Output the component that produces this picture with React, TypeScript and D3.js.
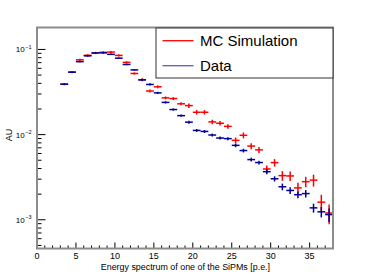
import * as d3 from "d3";

// bin centres (p.e.)
const binCenters = [
  3.5, 4.5, 5.5, 6.5, 7.5, 8.5, 9.5, 10.5, 11.5, 12.5, 13.5, 14.5, 15.5, 16.5,
  17.5, 18.5, 19.5, 20.5, 21.5, 22.5, 23.5, 24.5, 25.5, 26.5, 27.5, 28.5, 29.5,
  30.5, 31.5, 32.5, 33.5, 34.5, 35.5, 36.5, 37.5,
];

// MC simulation (red)
const mcValues = [
  0.0391, 0.0541, 0.0755, 0.0853, 0.091, 0.0925, 0.0932, 0.085, 0.0705, 0.0522,
  0.0441, 0.0325, 0.0364, 0.027, 0.0265, 0.023, 0.0219, 0.0183, 0.0183, 0.0141,
  0.0136, 0.0125, 0.00857, 0.00982, 0.00734, 0.00662, 0.00395, 0.00469, 0.0033,
  0.00327, 0.00237, 0.0028, 0.00292, 0.00161, 0.0012,
];
// relative errors
const mcErrors = [
  0.03, 0.03, 0.03, 0.03, 0.03, 0.03, 0.03, 0.03, 0.03, 0.03, 0.04, 0.04, 0.04,
  0.04, 0.04, 0.04, 0.06, 0.06, 0.06, 0.06, 0.06, 0.06, 0.08, 0.08, 0.08, 0.08,
  0.1, 0.1, 0.13, 0.13, 0.15, 0.14, 0.16, 0.22, 0.26,
];

// measured data (blue)
const dataValues = [
  0.0391, 0.0541, 0.0719, 0.0841, 0.091, 0.0912, 0.0876, 0.079, 0.0666, 0.0575,
  0.0439, 0.0388, 0.0309, 0.0239, 0.0197, 0.0167, 0.014, 0.0112, 0.0109,
  0.00989, 0.00912, 0.00897, 0.00748, 0.0065, 0.00509, 0.0047, 0.00367,
  0.00303, 0.00244, 0.00221, 0.00197, 0.00203, 0.00138, 0.00124, 0.00115,
];
const dataErrors = [
  0.02, 0.02, 0.02, 0.02, 0.02, 0.02, 0.02, 0.02, 0.02, 0.02, 0.03, 0.03, 0.03,
  0.03, 0.03, 0.03, 0.04, 0.04, 0.04, 0.04, 0.04, 0.04, 0.05, 0.05, 0.05, 0.05,
  0.07, 0.07, 0.09, 0.09, 0.09, 0.1, 0.12, 0.14, 0.18,
];

const xTicks = [0, 5, 10, 15, 20, 25, 30, 35];
const xMinorTicks = [
  1, 2, 3, 4, 6, 7, 8, 9, 11, 12, 13, 14, 16, 17, 18, 19, 21, 22, 23, 24, 26, 27,
  28, 29, 31, 32, 33, 34, 36, 37,
];
const yDecades = [-3, -2, -1];
const yMinorTicks = [
  5e-4, 6e-4, 7e-4, 8e-4, 9e-4, 2e-3, 3e-3, 4e-3, 5e-3, 6e-3, 7e-3, 8e-3, 9e-3,
  2e-2, 3e-2, 4e-2, 5e-2, 6e-2, 7e-2, 8e-2, 9e-2,
];

const legendItems = [
  { label: "MC Simulation", color: "#ff0000" },
  { label: "Data", color: "#5a5ac4" },
];

const W = 370;
const H = 278;
const frame = { left: 37, right: 333, top: 27.5, bottom: 248.5 };
const font = "'Liberation Sans', Arial, Helvetica, sans-serif";

const x = d3.scaleLinear().domain([0, 38]).range([frame.left, frame.right]);
const y = d3.scaleLog().domain([4.6e-4, 0.181]).range([frame.bottom, frame.top]);

const Series = ({ values, errors, color }) => (
  <g stroke={color} strokeWidth={1.5}>
    {values.map((v, i) => {
      const cx = x(binCenters[i]);
      const cy = y(v);
      return (
        <g key={i}>
          <line x1={x(binCenters[i] - 0.5)} x2={x(binCenters[i] + 0.5)} y1={cy} y2={cy} />
          <line x1={cx} x2={cx} y1={y(v * (1 - errors[i]))} y2={y(v * (1 + errors[i]))} />
        </g>
      );
    })}
  </g>
);

export default function App() {
  return (
    <svg
      width={W}
      height={H}
      style={{ position: "absolute", left: 0, top: 0, background: "#fff" }}
      fontFamily={font}
    >
      <rect width={W} height={H} fill="#fff" />

      {/* data */}
      <Series values={mcValues} errors={mcErrors} color="#ff0000" />
      <Series values={dataValues} errors={dataErrors} color="#000099" />

      {/* ticks */}
      <g stroke="#000" strokeWidth={1}>
        {xTicks.map((t) => (
          <line key={t} x1={x(t)} x2={x(t)} y1={frame.bottom} y2={frame.bottom - 6} />
        ))}
        {xMinorTicks.map((t) => (
          <line key={t} x1={x(t)} x2={x(t)} y1={frame.bottom} y2={frame.bottom - 3} />
        ))}
        {yDecades.map((d) => (
          <line key={d} x1={frame.left} x2={frame.left + 8.5} y1={y(10 ** d)} y2={y(10 ** d)} />
        ))}
        {yMinorTicks.map((t) => (
          <line key={t} x1={frame.left} x2={frame.left + 4.5} y1={y(t)} y2={y(t)} />
        ))}
      </g>

      {/* frame */}
      <rect
        x={frame.left}
        y={frame.top}
        width={frame.right - frame.left}
        height={frame.bottom - frame.top}
        fill="none"
        stroke="#8c8c8c"
        strokeWidth={2}
      />

      {/* x tick labels */}
      <g fontSize={9} textAnchor="middle" fill="#000">
        {xTicks.map((t) => (
          <text key={t} x={x(t)} y={258.5}>
            {t}
          </text>
        ))}
      </g>

      {/* y tick labels */}
      <g fontSize={8} fill="#000">
        {yDecades.map((d) => (
          <text key={d} x={31.5} y={y(10 ** d) + 3} textAnchor="end">
            10
            <tspan fontSize={5.5} dx={0.5} dy={-3.5}>
              {"\u2212" + Math.abs(d)}
            </tspan>
          </text>
        ))}
      </g>

      {/* axis titles */}
      <text x={frame.right - 63} y={269.5} fontSize={8.9} textAnchor="end">
        Energy spectrum of one of the SiPMs [p.e.]
      </text>
      <text
        transform={`translate(12, 135) rotate(-90)`}
        fontSize={9}
        textAnchor="middle"
      >
        AU
      </text>

      {/* legend */}
      <g>
        <rect x={156} y={28} width={177} height={50} fill="#fff" stroke="#333" strokeWidth={1} />
        {legendItems.map((item, i) => {
          const ly = 40.7 + i * 25;
          return (
            <g key={item.label}>
              <line x1={162.5} x2={193.5} y1={ly} y2={ly} stroke={item.color} strokeWidth={1.3} />
              <text x={200} y={ly + 5.3} fontSize={15} fill="#000">
                {item.label}
              </text>
            </g>
          );
        })}
      </g>
    </svg>
  );
}
